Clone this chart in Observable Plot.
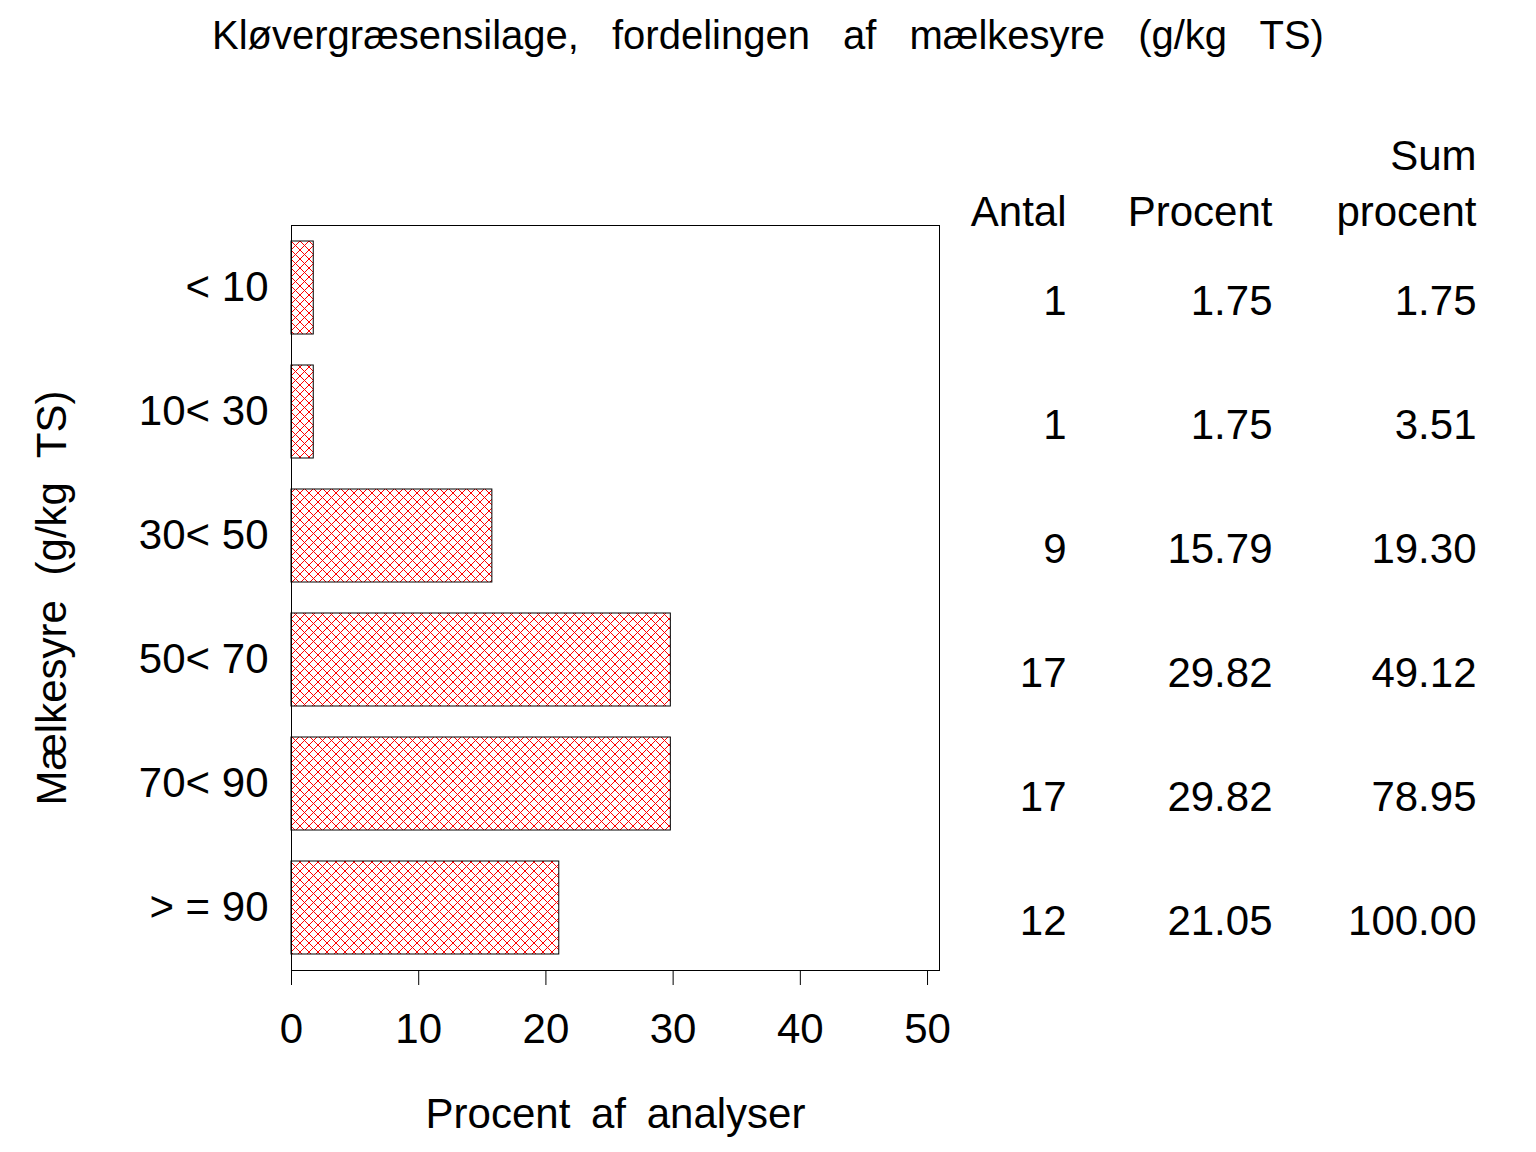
<!DOCTYPE html>
<html>
<head>
<meta charset="utf-8">
<script src="https://cdn.jsdelivr.net/npm/d3@7"></script>
<script src="https://cdn.jsdelivr.net/npm/@observablehq/plot@0.6"></script>
<style>
  html, body { margin: 0; padding: 0; background: #fff; }
  #wrap { width: 1536px; height: 1152px; position: relative; font-family: "Liberation Sans", Arial, sans-serif; color: #000; }
  #title { height: 70px; line-height: 70px; font-size: 40px; text-align: center; word-spacing: 22px; white-space: nowrap; }
  svg { display: block; }
</style>
</head>
<body>
<div id="wrap">
  <div id="title">Kløvergræsensilage, fordelingen af mælkesyre (g/kg TS)</div>
  <div id="chart"></div>
</div>
<script>
const categories = ["< 10", "10< 30", "30< 50", "50< 70", "70< 90", "> = 90"];
const percent = [1.75, 1.75, 15.79, 29.82, 29.82, 21.05];
const antal = [1, 1, 9, 17, 17, 12];
const sumPercent = [1.75, 3.51, 19.30, 49.12, 78.95, 100.00];
const xTicks = [0, 10, 20, 30, 40, 50];
const xLabel = "Procent af analyser";
const yLabel = "Mælkesyre (g/kg TS)";
const headers = ["Antal", "Procent", "Sum\nprocent"];

const rows = categories.map((c, i) => ({
  cat: c, pct: percent[i], n: antal[i], sum: sumPercent[i]
}));

const colDx = [127, 333, 537];
const fs = 42;

const plot = Plot.plot({
  width: 1536,
  height: 1082,
  marginLeft: 291,
  marginRight: 597,
  marginTop: 155,
  marginBottom: 182,
  style: { fontFamily: "'Liberation Sans', Arial, sans-serif", fontSize: fs + "px", color: "#000", background: "#fff", overflow: "visible" },
  x: { domain: [0, 50.94] },
  y: { domain: categories, paddingInner: 0.25, paddingOuter: 0.125 },
  marks: [
    Plot.barX(rows, { x: "pct", y: "cat", fill: "url(#hatch)", stroke: "#000", strokeWidth: 1 }),
    Plot.frame({ stroke: "#000", strokeWidth: 1 }),
    Plot.axisX({ ticks: xTicks, tickSize: 15, tickPadding: 28, label: null, fontSize: fs, stroke: "#000" }),
    Plot.axisY({ tickSize: 0, tickPadding: 23, label: null, fontSize: fs }),
    Plot.text([xLabel], { frameAnchor: "bottom", lineAnchor: "bottom", dy: 157, fontSize: fs, fill: "#000" }),
    Plot.text([yLabel], { frameAnchor: "left", textAnchor: "middle", rotate: -90, lineAnchor: "bottom", dx: -226, fontSize: fs, fill: "#000" }),
    Plot.text(rows, { y: "cat", text: d => String(d.n), frameAnchor: "right", textAnchor: "end", dx: colDx[0], dy: 14, fontSize: fs, fill: "#000" }),
    Plot.text(rows, { y: "cat", text: d => d.pct.toFixed(2), frameAnchor: "right", textAnchor: "end", dx: colDx[1], dy: 14, fontSize: fs, fill: "#000" }),
    Plot.text(rows, { y: "cat", text: d => d.sum.toFixed(2), frameAnchor: "right", textAnchor: "end", dx: colDx[2], dy: 14, fontSize: fs, fill: "#000" }),
    ...headers.map((h, i) => Plot.text([h], { frameAnchor: "top-right", textAnchor: "end", lineAnchor: "bottom", lineHeight: 1.31, dx: colDx[i], dy: 0, fontSize: fs, fill: "#000" }))
  ]
});

// hatch pattern definition
const svg = d3.select(plot);
const defs = svg.insert("defs", ":first-child");
const pat = defs.append("pattern")
  .attr("id", "hatch")
  .attr("patternUnits", "userSpaceOnUse")
  .attr("width", 9).attr("height", 9)
  .attr("x", 291).attr("y", 0);
pat.append("rect").attr("width", 9).attr("height", 9).attr("fill", "#fff");
pat.append("path").attr("d", "M0,0L9,9M9,0L0,9M-1,8L1,10M8,-1L10,1")
  .attr("stroke", "#ff0000").attr("stroke-width", 1).attr("fill", "none");

svg.selectAll("text").filter(function () { return this.textContent === xLabel; }).style("word-spacing", "9px");
svg.selectAll("text").filter(function () { return this.textContent === yLabel; }).style("word-spacing", "13px");

document.getElementById("chart").appendChild(plot);
</script>
</body>
</html>
